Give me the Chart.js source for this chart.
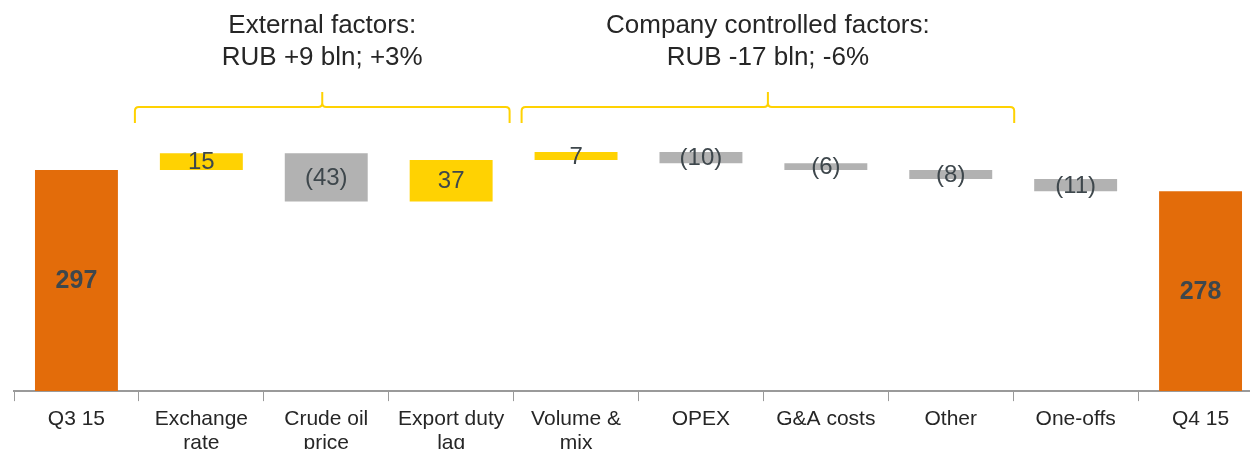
<!DOCTYPE html>
<html>
<head>
<meta charset="utf-8">
<script src="https://cdn.jsdelivr.net/npm/chart.js@4.4.1/dist/chart.umd.min.js"></script>
<style>
  html, body { margin: 0; padding: 0; background: #fff; overflow: hidden; }
  #wrap { width: 1264px; height: 461px; }
</style>
</head>
<body>
<div id="wrap"><canvas id="bridge" width="1264" height="461"></canvas></div>
<script>
// categories and values (RUB bln)
var categories = [['Q3 15'], ['Exchange', 'rate'], ['Crude oil', 'price'], ['Export duty', 'lag'],
    ['Volume &', 'mix'], ['OPEX'], ['G&A costs'], ['Other'], ['One-offs'], ['Q4 15']];
var values = [297, 15, -43, 37, 7, -10, -6, -8, -11, 278];
var kinds = ['total', 'delta', 'delta', 'delta', 'delta', 'delta', 'delta', 'delta', 'delta', 'total'];

// group captions above the brackets (from/to = category index, pad = small nudge off the boundary)
var groups = [
    { from: 1, to: 3, padL: -4, padR: -4, lines: ['External factors:', 'RUB +9 bln; +3%'] },
    { from: 4, to: 7, padL: 8, padR: 1, lines: ['Company controlled factors:', 'RUB -17 bln; -6%'] }
];

var ORANGE = '#E36C0A';
var YELLOW = '#FFD202';
var GREY = '#B2B2B2';
var TEXT = '#3E474C';

// floating ranges for the waterfall
var ranges = [];
var colors = [];
var running = 0;
values.forEach(function (v, i) {
    if (kinds[i] === 'total') {
        ranges.push([0, v]);
        running = v;
        colors.push(ORANGE);
    } else {
        ranges.push([running, running + v]);
        running += v;
        colors.push(v >= 0 ? YELLOW : GREY);
    }
});

function fmt(v, i) {
    if (kinds[i] === 'total') return String(v);
    return v < 0 ? '(' + (-v) + ')' : String(v);
}

// value labels in the middle of each bar
var barLabels = {
    id: 'barLabels',
    afterDatasetsDraw: function (chart) {
        var ctx = chart.ctx;
        var meta = chart.getDatasetMeta(0);
        var y = chart.scales.y;
        ctx.save();
        ctx.textAlign = 'center';
        ctx.textBaseline = 'middle';
        ctx.fillStyle = TEXT;
        meta.data.forEach(function (bar, i) {
            var r = ranges[i];
            var lo = Math.max(r[0], r[1]) , hi = Math.min(r[0], r[1]);
            if (kinds[i] === 'total') hi = y.min;
            var cy = (y.getPixelForValue(lo) + y.getPixelForValue(hi)) / 2;
            ctx.font = (kinds[i] === 'total' ? 'bold 25px' : '24px') + ' "Liberation Sans", Arial, sans-serif';
            ctx.fillText(fmt(values[i], i), bar.x, cy + 1);
        });
        ctx.restore();
    }
};

// curly brackets and captions
var brackets = {
    id: 'brackets',
    afterDraw: function (chart) {
        var ctx = chart.ctx;
        var x = chart.scales.x;
        var half = (x.getPixelForValue(1) - x.getPixelForValue(0)) / 2;
        ctx.save();
        groups.forEach(function (g) {
            var x0 = x.getPixelForValue(g.from) - half + g.padL;
            var x1 = x.getPixelForValue(g.to) + half + g.padR;
            var xm = (x0 + x1) / 2;
            var yl = 107, yb = 123, yt = 92, r = 4;
            ctx.strokeStyle = YELLOW;
            ctx.lineWidth = 2;
            ctx.beginPath();
            ctx.moveTo(x0, yb);
            ctx.lineTo(x0, yl + r);
            ctx.quadraticCurveTo(x0, yl, x0 + r, yl);
            ctx.lineTo(xm - r, yl);
            ctx.quadraticCurveTo(xm, yl, xm, yl - r);
            ctx.lineTo(xm, yt);
            ctx.moveTo(xm, yl - r);
            ctx.quadraticCurveTo(xm, yl, xm + r, yl);
            ctx.lineTo(x1 - r, yl);
            ctx.quadraticCurveTo(x1, yl, x1, yl + r);
            ctx.lineTo(x1, yb);
            ctx.stroke();

            ctx.fillStyle = '#262626';
            ctx.font = '26px "Liberation Sans", Arial, sans-serif';
            ctx.textAlign = 'center';
            ctx.textBaseline = 'middle';
            ctx.fillText(g.lines[0], xm, 26);
            ctx.fillText(g.lines[1], xm, 58);
        });
        ctx.restore();
    }
};

new Chart(document.getElementById('bridge').getContext('2d'), {
    type: 'bar',
    data: {
        labels: categories,
        datasets: [{
            data: ranges,
            backgroundColor: colors,
            borderWidth: 0,
            barPercentage: 0.664,
            categoryPercentage: 1.0
        }]
    },
    options: {
        responsive: false,
        animation: false,
        devicePixelRatio: 1,
        layout: { padding: { left: 14, right: 1, top: 133, bottom: 0 } },
        plugins: { legend: { display: false }, tooltip: { enabled: false } },
        scales: {
            y: { display: false, min: 100, max: 330 },
            x: {
                offset: true,
                border: { display: true, color: '#9A9A9A', width: 2 },
                grid: {
                    offset: true,
                    drawOnChartArea: false,
                    drawTicks: true,
                    tickLength: 10,
                    color: '#9A9A9A',
                    lineWidth: 1
                },
                ticks: {
                    color: '#262626',
                    padding: 6,
                    autoSkip: false,
                    maxRotation: 0,
                    font: { family: '"Liberation Sans", Arial, sans-serif', size: 21, lineHeight: 1.14 }
                }
            }
        }
    },
    plugins: [barLabels, brackets]
});
</script>
</body>
</html>
